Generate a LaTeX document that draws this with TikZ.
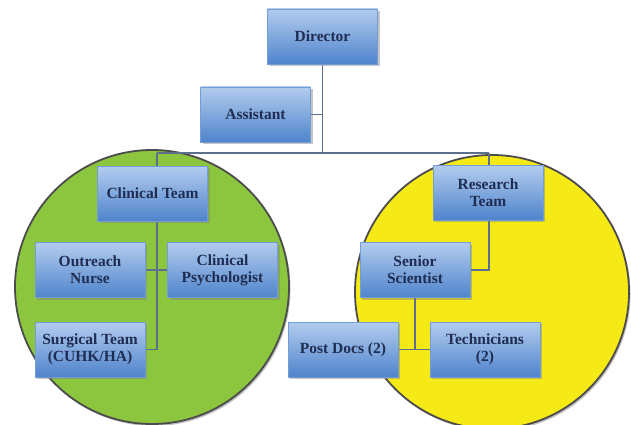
\documentclass[tikz,border=0pt]{standalone}
\usepackage{fontspec}
\setmainfont{Liberation Serif}
\usepackage{xcolor}
\usepackage{tikz}
\usetikzlibrary{shadows,positioning,calc}
\definecolor{boxtop}{HTML}{B3CCEE}
\definecolor{boxbot}{HTML}{4F84CC}
\definecolor{boxtext}{HTML}{1F2D52}
\definecolor{linkcol}{HTML}{5C6F8C}
\definecolor{clingreen}{HTML}{8CC63E}
\definecolor{resyellow}{HTML}{F6EA16}
\pgfdeclarelayer{circles}
\pgfdeclarelayer{links}
\pgfsetlayers{circles,links,main}

\begin{document}
\begin{tikzpicture}[x=1pt,y=-1pt,
    orgbox/.style={rectangle, draw=boxbot!80!white, line width=0.3pt,
        top color=boxtop, bottom color=boxbot, text=boxtext,
        minimum width=110pt, minimum height=55pt, align=center,
        inner sep=2pt,
        font=\fontsize{15.5}{17}\selectfont\bfseries,
        drop shadow={opacity=0.45, shadow xshift=2pt, shadow yshift=-2pt}},
    link/.style={draw=linkcol, line width=1.3pt},
    team/.style={draw=black!70, line width=1.8pt,
        drop shadow={opacity=0.5, shadow xshift=1.5pt, shadow yshift=-2pt}}]
    \useasboundingbox (0,0) rectangle (631,425);

    % the two teams
    \begin{pgfonlayer}{circles}
        \fill[white] (0,0) rectangle (631,425);
        \filldraw[team, fill=clingreen] (152,287) circle (137);
        \filldraw[team, fill=resyellow] (492,292) circle (137);
    \end{pgfonlayer}

    % boxes
    \node[orgbox] (director) at (322.5,36.5) {Director};
    \node[orgbox] (assistant) at (255.5,114.5) {Assistant};
    \node[orgbox] (clinical) at (152.5,193.5) {Clinical Team};
    \node[orgbox] (outreach) at (90,270) {Outreach\\Nurse};
    \node[orgbox] (psych) at (222.5,270) {Clinical\\Psychologist};
    \node[orgbox] (surgical) at (90,349.5) {Surgical Team\\(CUHK/HA)};
    \node[orgbox] (research) at (488,192.5) {Research\\Team};
    \node[orgbox] (senior) at (415,270) {Senior\\Scientist};
    \node[orgbox] (postdoc) at (343,349.5) {Post Docs (2)};
    \node[orgbox] (tech) at (485,349.5) {Technicians\\(2)};

    % connectors
    \coordinate (cspine) at (157,153);
    \coordinate (rspine) at (489,153);
    \begin{pgfonlayer}{links}
        \draw[link] (director.south) -- (director.south |- cspine);
        \draw[link] (assistant.east) -- (assistant.east -| director.south);
        \draw[link] (cspine) -- (rspine);
        \draw[link] (cspine) -- (cspine |- surgical.east) -- (surgical.east);
        \draw[link] (outreach.east) -- (psych.west);
        \draw[link] (rspine) -- (rspine |- senior.east) -- (senior.east);
        \draw[link] (senior.south) -- (senior.south |- postdoc.east);
        \draw[link] (postdoc.east) -- (tech.west);
    \end{pgfonlayer}
\end{tikzpicture}
\end{document}
